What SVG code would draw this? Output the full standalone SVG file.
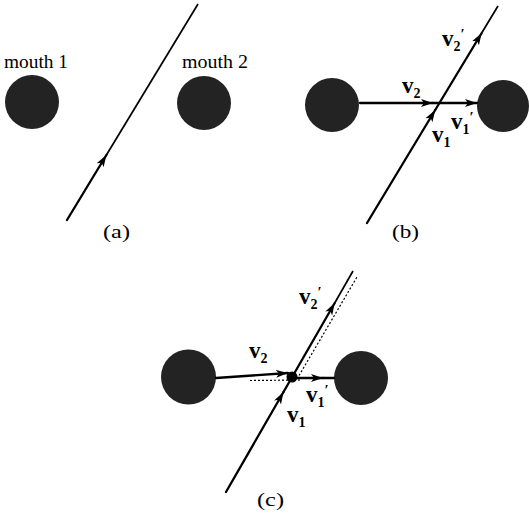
<svg xmlns="http://www.w3.org/2000/svg" width="529" height="514" viewBox="0 0 529 514">
<style>
.bg{fill:#fff}
.mouth{fill:#232323}
.ln{stroke:#000;stroke-width:2.3;fill:none;stroke-linecap:round}
.thin{stroke:#000;stroke-width:1.7;fill:none}
.dot{stroke:#000;stroke-width:1.2;fill:none;stroke-dasharray:2 2}
.t{font-family:"Liberation Serif","Times New Roman",serif;font-size:18px;fill:#000}
.v{font-family:"Liberation Serif","Times New Roman",serif;font-size:23px;font-weight:bold;fill:#000}
.s{font-size:14px}
.p{font-size:15px}
</style>
<defs>
<marker id="ah" markerUnits="userSpaceOnUse" markerWidth="14" markerHeight="10" refX="12" refY="4" orient="auto">
<path d="M0,0 L12,4 L0,8 L3,4 z" fill="#000"/>
</marker>
</defs>
<rect class="bg" x="0" y="0" width="529" height="514"/>

<!-- panel (a) -->
<g id="mouth1a"><circle class="mouth" cx="32" cy="102" r="27"/><text class="t" x="4" y="68" textLength="64" lengthAdjust="spacingAndGlyphs">mouth 1</text></g>
<g id="mouth2a"><circle class="mouth" cx="204" cy="103" r="27"/><text class="t" x="182" y="68" textLength="66" lengthAdjust="spacingAndGlyphs">mouth 2</text></g>
<text id="label-a" class="t" x="103" y="238" textLength="27" lengthAdjust="spacingAndGlyphs">(a)</text>

<!-- panel (b) -->
<g id="mouth1b"><circle class="mouth" cx="332" cy="105" r="27"/></g>
<g id="mouth2b"><circle class="mouth" cx="503" cy="106" r="26"/></g>
<text id="label-b" class="t" x="392" y="238" textLength="27" lengthAdjust="spacingAndGlyphs">(b)</text>

<!-- panel (c) -->
<g id="mouth1c"><circle class="mouth" cx="188.5" cy="377" r="27.5"/></g>
<g id="mouth2c"><circle class="mouth" cx="361" cy="378" r="27"/></g>
<g id="collision"><circle cx="292" cy="377" r="5.5" fill="#000"/></g>
<text id="label-c" class="t" x="257" y="506" textLength="27" lengthAdjust="spacingAndGlyphs">(c)</text>

<g id="connectors">
<!-- a -->
<line class="ln" x1="67" y1="220" x2="106.4" y2="155" marker-end="url(#ah)"/>
<line class="thin" x1="106.4" y1="155" x2="198" y2="4"/>
<!-- b -->
<line class="ln" x1="367" y1="223" x2="435.2" y2="110" marker-end="url(#ah)"/>
<line class="ln" x1="435.2" y1="110" x2="481.7" y2="33" marker-end="url(#ah)"/>
<line class="thin" x1="481.7" y1="33" x2="498" y2="6"/>
<line class="ln" x1="360" y1="103" x2="433" y2="103" marker-end="url(#ah)"/>
<line class="ln" x1="433" y1="103" x2="477" y2="103" marker-end="url(#ah)"/>
<!-- c -->
<line class="ln" x1="226" y1="492" x2="283.5" y2="392" marker-end="url(#ah)"/>
<line class="ln" x1="283.5" y1="392" x2="334.7" y2="303" marker-end="url(#ah)"/>
<line class="thin" x1="334.7" y1="303" x2="353" y2="271"/>
<line class="dot" x1="297" y1="379" x2="357" y2="277"/>
<line class="ln" x1="216" y1="378" x2="288" y2="373" marker-end="url(#ah)"/>
<line class="dot" x1="250" y1="380.5" x2="302" y2="380"/>
<line class="ln" x1="292" y1="378" x2="323" y2="378" marker-end="url(#ah)"/>
<line class="ln" x1="323" y1="378" x2="334" y2="378"/>
</g>

<!-- vector labels (b) -->
<g id="labels-b">
<text class="v" x="402" y="93">v<tspan class="s" dy="5">2</tspan></text>
<text class="v" x="442" y="46">v<tspan class="s" dy="5">2</tspan><tspan class="p" dy="-12">′</tspan></text>
<text class="v" x="451" y="129">v<tspan class="s" dy="5">1</tspan><tspan class="p" dy="-12">′</tspan></text>
<text class="v" x="432" y="142">v<tspan class="s" dy="5">1</tspan></text>
</g>
<!-- vector labels (c) -->
<g id="labels-c">
<text class="v" x="249" y="358">v<tspan class="s" dy="5">2</tspan></text>
<text class="v" x="299" y="304">v<tspan class="s" dy="5">2</tspan><tspan class="p" dy="-12">′</tspan></text>
<text class="v" x="306" y="402">v<tspan class="s" dy="5">1</tspan><tspan class="p" dy="-12">′</tspan></text>
<text class="v" x="287" y="422">v<tspan class="s" dy="5">1</tspan></text>
</g>
</svg>
